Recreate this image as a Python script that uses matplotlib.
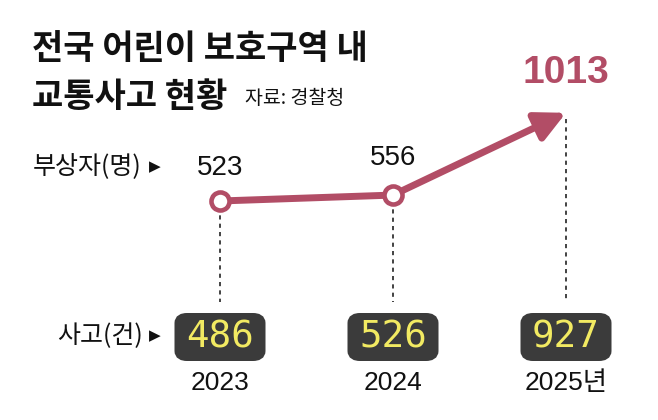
import matplotlib
matplotlib.use("Agg")
import matplotlib.pyplot as plt
from matplotlib.patches import FancyBboxPatch
import matplotlib.transforms as mtransforms

years = ["2023", "2024", "2025년"]
injured = [523, 556, 1013]
accidents = ["486", "526", "927"]

NUM = "Liberation Sans"
KR = "Noto Sans CJK KR"
plt.rcParams["font.family"] = [KR, "DejaVu Sans"]

ROSE = "#b24d66"
W, H = 658, 420
fig = plt.figure(figsize=(W / 100, H / 100), dpi=100)
fig.patch.set_facecolor("white")
ax = fig.add_axes([0, 0, 1, 1])
ax.set_xlim(-220 / 173, (W - 220) / 173)
ax.set_ylim(523 - 219 / 0.18, 523 + 201 / 0.18)
ax.axis("off")

xs = list(range(len(years)))
fy = lambda py: 1 - py / H  # figure fraction from pixel y (top)
blend = mtransforms.blended_transform_factory(ax.transData, fig.transFigure)

# dashed guide lines
for x, v in zip(xs, injured):
    y_top = ax.transData.transform((x, v))[1]
    ax.plot([x, x], [fy(H - y_top + 6), fy(302)], transform=blend, color="#222222",
            lw=1.2, ls=(0, (2.5, 2.5)), zorder=1)

# line segment 2023-2024
ax.plot(xs[:2], injured[:2], color=ROSE, lw=5, solid_capstyle="butt", zorder=3)
# arrow 2024-2025
ax.annotate("", xy=(xs[2], injured[2]), xytext=(xs[1], injured[1]),
            arrowprops=dict(arrowstyle="-|>,head_length=1.8,head_width=0.9",
                            color=ROSE, lw=5, shrinkA=0, shrinkB=0), zorder=3)
ax.plot(xs[:2], injured[:2], "o", ms=13, mfc="white", mec=ROSE, mew=3.3, zorder=4)

# value labels
ax.text(xs[0], fy(168), str(injured[0]), transform=blend, ha="center", va="center",
        fontsize=20, family=NUM, color="#111111")
ax.text(xs[1], fy(158), str(injured[1]), transform=blend, ha="center", va="center",
        fontsize=20, family=NUM, color="#111111")
ax.text(xs[2], fy(73), str(injured[2]), transform=blend, ha="center", va="center",
        fontsize=28, family=NUM, weight="bold", color=ROSE)

# LCD boxes
for x, a, yr in zip(xs, accidents, years):
    cx = ax.transData.transform((x, 0))[0]
    box = FancyBboxPatch(((cx - 45.5 + 6) / W, fy(361) + 6 / H), (91 - 12) / W, (48 - 12) / H,
                         boxstyle="round,pad=0,rounding_size=0.01", transform=fig.transFigure,
                         facecolor="#3b3b3b", edgecolor="#3b3b3b", lw=12 * 0.72, zorder=2)
    ax.add_patch(box)
    ax.text(x, fy(337), a, transform=blend, ha="center", va="center", fontsize=27,
            family="DejaVu Sans Mono", color="#f2ea62", zorder=5)
    ax.text(x, fy(383), yr, transform=blend, ha="center", va="center", fontsize=19,
            family=[NUM, KR], color="#111111")

# row labels
fig.text(33 / W, fy(167), "부상자(명)", ha="left", va="center", fontsize=18, color="#111111")
fig.text(161 / W, fy(167), "▶", ha="right", va="center", fontsize=11, color="#111111",
         family="DejaVu Sans")
fig.text(57 / W, fy(336), "사고(건)", ha="left", va="center", fontsize=18, color="#111111")
fig.text(161 / W, fy(336), "▶", ha="right", va="center", fontsize=11, color="#111111",
         family="DejaVu Sans")

# titles
fig.text(32 / W, fy(49), "전국 어린이 보호구역 내", ha="left", va="center", fontsize=24.5,
         weight="bold", color="#111111")
fig.text(32 / W, fy(97), "교통사고 현황", ha="left", va="center", fontsize=24.5,
         weight="bold", color="#111111")
fig.text(245 / W, fy(99), "자료: 경찰청", ha="left", va="center", fontsize=14,
         color="#111111")

fig.savefig("out.png", dpi=100, facecolor="white")
